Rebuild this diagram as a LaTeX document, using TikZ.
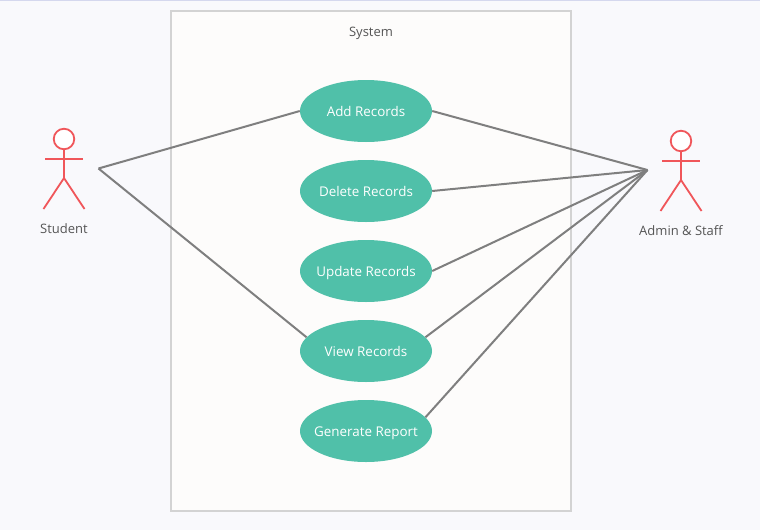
\documentclass[tikz,border=0pt]{standalone}
\usepackage{fontspec}
\setmainfont{Open Sans}
\usetikzlibrary{shapes.geometric}
\definecolor{pagebg}{HTML}{F9F9FC}
\definecolor{topline}{HTML}{D5D8EE}
\definecolor{boxfill}{HTML}{FDFCFB}
\definecolor{boxline}{HTML}{D3D3D3}
\definecolor{usefill}{HTML}{50C0A9}
\definecolor{wire}{HTML}{7F7F7F}
\definecolor{actor}{HTML}{F0565A}
\definecolor{txt}{HTML}{555555}
\newcommand{\uctext}[1]{\smash{\makebox[0pt]{\raisebox{-5pt}{#1}}}}
\tikzset{
  usecase/.style={ellipse,fill=usefill,draw=none,minimum width=132pt,minimum height=62pt,inner sep=0pt,text=white,font=\fontsize{13.4}{15}\selectfont},
  sysbox/.style={draw=boxline,fill=boxfill,line width=2pt,minimum width=400pt,minimum height=500pt,inner sep=0pt},
  wireline/.style={draw=wire,line width=2pt},
  actorline/.style={draw=actor,line width=1.8pt},
  actorhead/.style={circle,draw=actor,line width=1.8pt,fill=white,minimum size=20.5pt,inner sep=0pt},
  lbl/.style={text=txt,font=\fontsize{13}{15}\selectfont,inner sep=0pt},
}
\begin{document}
\begin{tikzpicture}[x=1pt,y=-1pt]
\useasboundingbox (0,0) rectangle (760,530);
\fill[pagebg] (0,0) rectangle (760,530);
\fill[topline] (0,0) rectangle (760,1);
\node[sysbox] (system) at (371,261) {};
\node[lbl] (systemlabel) at (371,31) {\uctext{System}};
\node[usecase] (add) at (366,111) {\uctext{Add Records}};
\node[usecase] (delete) at (366,191) {\uctext{Delete Records}};
\node[usecase] (update) at (366,271) {\uctext{Update Records}};
\node[usecase] (view) at (366,351) {\uctext{View Records}};
\node[usecase] (report) at (366,431) {\uctext{Generate Report}};
% Student actor
\node[actorhead] (shead) at (64,139) {};
\coordinate (sarmL) at (45,159);
\coordinate (sarmR) at (83,159);
\coordinate (ship) at (64,178);
\coordinate (slegL) at (43.5,209);
\coordinate (slegR) at (84.5,209);
\draw[actorline] (shead.south) -- (ship);
\draw[actorline] (sarmL) -- (sarmR);
\draw[actorline] (slegL) -- (ship) -- (slegR);
\node[lbl] (student) at (64,228) {\uctext{Student}};
% Admin actor
\node[actorhead] (ahead) at (681,141) {};
\coordinate (aarmL) at (662,161);
\coordinate (aarmR) at (700,161);
\coordinate (ahip) at (681,180);
\coordinate (alegL) at (660.5,211);
\coordinate (alegR) at (701.5,211);
\draw[actorline] (ahead.south) -- (ahip);
\draw[actorline] (aarmL) -- (aarmR);
\draw[actorline] (alegL) -- (ahip) -- (alegR);
\node[lbl] (admin) at (681,230) {\uctext{Admin \& Staff}};
% Connectors
\coordinate (sfree) at (98.5,168.5);
\coordinate (afree) at (647.5,170);
\draw[wireline] (sfree) -- (add.west);
\draw[wireline] (sfree) -- (view.167);
\draw[wireline] (afree) -- (add.east);
\draw[wireline] (afree) -- (delete.east);
\draw[wireline] (afree) -- (update.east);
\draw[wireline] (afree) -- (view.13);
\draw[wireline] (afree) -- (report.13);
\end{tikzpicture}
\end{document}
